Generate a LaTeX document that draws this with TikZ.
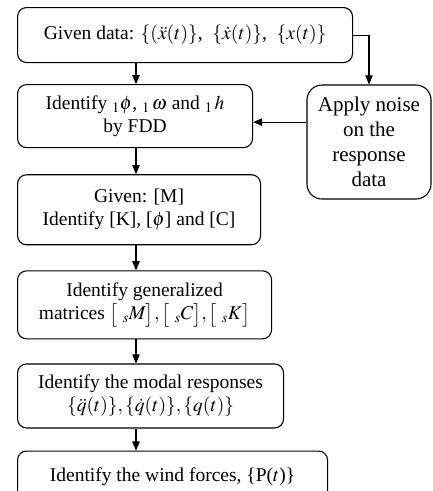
\documentclass[tikz,border=0pt]{standalone}
\usepackage{mathptmx}
\usepackage[no-math]{fontspec}
\setmainfont{Liberation Serif}
\usetikzlibrary{positioning,arrows}

\begin{document}
\begin{tikzpicture}[x=1pt,y=-1pt,>=triangle 45,
box/.style={draw,line width=1.1pt,rounded corners=9pt,align=center,
inner sep=1pt,font=\fontsize{19.5}{23}\selectfont}]
\useasboundingbox (0,0) rectangle (433,491);
\node(given)[box,anchor=north west,minimum width=335pt,minimum height=55pt] at (17,7)
{Given data: $\{(\ddot{x}(t)\}$,\ \ $\{\dot{x}(t)\}$,\ \ $\{x(t)\}$};
\node(fdd)[box,below=21pt of given.south west,anchor=north west,minimum width=235pt,minimum height=63pt]
{Identify ${}_1\phi$, ${}_1\,\omega$ and ${}_1\,h$\\ by FDD};
\node(mkc)[box,below=26pt of fdd.south west,anchor=north west,minimum width=243pt,minimum height=70pt]
{Given: [M]\\ Identify [K], [$\phi$] and [C]};
\node(gen)[box,below=25pt of mkc.south west,anchor=north west,minimum width=254pt,minimum height=68pt]
{Identify generalized\\ matrices $\bigl[\ {}_sM\bigr],\bigl[\ {}_sC\bigr],\bigl[\ {}_sK\bigr]$};
\node(modal)[box,below=24pt of gen.south west,anchor=north west,minimum width=266pt,minimum height=64pt]
{Identify the modal responses\\ $\{\ddot{q}(t)\},\{\dot{q}(t)\},\{q(t)\}$};
\node(wind)[box,below=22pt of modal.south west,anchor=north west,minimum width=310pt,minimum height=52pt]
{Identify the wind forces, \{P($t$)\}};
\node(noise)[box,rounded corners=15pt,minimum width=124pt,minimum height=114pt,
inner sep=0pt,font=\fontsize{21}{25}\selectfont] at (369,142)
{Apply noise\\ on the\\ response\\ data};
\coordinate (spine) at (136,0);
\path[->,line width=1.1pt](given.south -| spine) edge (fdd.north -| spine);
\path[->,line width=1.1pt](fdd.south -| spine) edge (mkc.north -| spine);
\path[->,line width=1.1pt](mkc.south -| spine) edge (gen.north -| spine);
\path[->,line width=1.1pt](gen.south -| spine) edge (modal.north -| spine);
\path[->,line width=1.1pt](modal.south -| spine) edge (wind.north -| spine);
\draw[->,line width=1.1pt](given.east) -| (noise.north);
\draw[->,line width=1.1pt]([yshift=-6pt]noise.west |- fdd.east) -- ([yshift=-6pt]fdd.east);
\end{tikzpicture}
\end{document}
